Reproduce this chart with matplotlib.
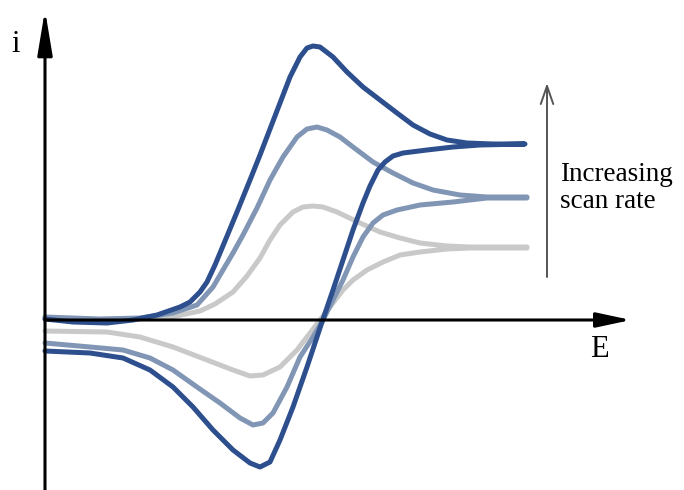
import numpy as np
import matplotlib
matplotlib.use("Agg")
import matplotlib.pyplot as plt

# cyclic voltammograms at three scan rates (arbitrary units)
# forward sweep (oxidation) and reverse sweep (reduction) for each scan rate

# fast scan
fast_E_fwd = [0, 28, 62, 88, 112, 135, 145, 155, 162, 170, 180, 192, 205, 215, 225, 235,
              245, 255, 262, 268, 275, 288, 302, 318, 335, 352, 368, 385, 402, 422, 448, 480]
fast_i_fwd = [1, -2, -3, 0, 5, 13, 18, 28, 38, 55, 79, 108, 140, 165, 191, 217,
              243, 263, 272, 274, 273, 263, 248, 233, 220, 207, 195, 186, 180, 177, 176, 176]
fast_E_rev = [480, 435, 408, 382, 358, 348, 340, 333, 325, 318, 308, 298, 288, 275, 262,
              248, 235, 225, 215, 205, 188, 168, 148, 128, 105, 78, 45, 0]
fast_i_rev = [176, 175, 173, 170, 167, 164, 158, 150, 134, 117, 90, 60, 30, -8, -47,
              -87, -120, -142, -147, -143, -130, -110, -87, -67, -50, -38, -33, -31]

# medium scan
mid_E_fwd = [0, 55, 95, 128, 152, 168, 188, 198, 212, 225, 238, 252, 262, 272, 282,
             295, 308, 328, 348, 368, 388, 415, 442, 482]
mid_i_fwd = [3, 1, 2, 7, 15, 33, 67, 85, 112, 140, 163, 183, 191, 193, 190,
             183, 173, 158, 147, 137, 130, 125, 123, 123]
mid_E_rev = [482, 442, 408, 375, 352, 338, 328, 318, 308, 298, 288, 278, 268, 255, 242,
             228, 218, 208, 195, 175, 152, 128, 105, 78, 45, 0]
mid_i_rev = [122, 122, 118, 115, 110, 105, 97, 83, 63, 40, 20, 0, -17, -37, -67,
             -93, -103, -105, -98, -83, -67, -50, -38, -30, -27, -23]

# slow scan
slow_E_fwd = [0, 55, 122, 155, 170, 188, 202, 215, 225, 235, 248, 258, 268, 278, 292, 315,
              335, 355, 375, 402, 425, 482]
slow_i_fwd = [2, 0, 2, 9, 16, 28, 44, 62, 80, 95, 108, 113, 114, 113, 108, 97,
              88, 82, 77, 74, 73, 73]
slow_E_rev = [482, 425, 402, 375, 355, 338, 322, 308, 298, 288, 275, 265, 252, 235, 218,
              205, 188, 162, 128, 95, 62, 0]
slow_i_rev = [72, 72, 71, 68, 65, 58, 50, 40, 30, 17, 0, -13, -30, -47, -55,
              -56, -50, -40, -27, -17, -12, -11]

colors = {"slow": "#c9c9c9", "mid": "#8196b5", "fast": "#2d4f8e"}

fig = plt.figure(figsize=(6.84, 4.90), dpi=100)
ax = fig.add_axes([0, 0, 1, 1])
ax.set_xlim(-45, 639)
ax.set_ylim(-170, 320)
ax.axis("off")

curves = [
    ("slow", slow_E_fwd, slow_i_fwd, slow_E_rev, slow_i_rev),
    ("mid", mid_E_fwd, mid_i_fwd, mid_E_rev, mid_i_rev),
    ("fast", fast_E_fwd, fast_i_fwd, fast_E_rev, fast_i_rev),
]
for z, (name, ef, jf, er, jr) in enumerate(curves):
    E = np.concatenate([ef, er])
    cur = np.concatenate([jf, jr])
    ax.plot(E, cur, color=colors[name], lw=3.6, zorder=2 + z,
            solid_joinstyle="round", solid_capstyle="round")

# axes with arrow heads
ax.annotate("", xy=(0, 310), xytext=(0, -172),
            arrowprops=dict(arrowstyle="-|>,head_length=2.7,head_width=0.45",
                            color="black", lw=2.2, mutation_scale=10,
                            shrinkA=0, shrinkB=0), zorder=6)
ax.annotate("", xy=(586, 0), xytext=(0, 0),
            arrowprops=dict(arrowstyle="-|>,head_length=2.1,head_width=0.45",
                            color="black", lw=2.2, mutation_scale=10,
                            shrinkA=0, shrinkB=0), zorder=6)

serif = "Liberation Serif"
ax.text(-29, 268, "i", fontsize=22, family=serif, ha="center", va="baseline")
ax.text(554, -37, "E", fontsize=22, family=serif, ha="center", va="baseline")

# increasing scan rate arrow
ax.annotate("", xy=(502, 237), xytext=(502, 43),
            arrowprops=dict(arrowstyle="->,head_length=1.3,head_width=0.45",
                            color="#555555", lw=1.4, mutation_scale=10,
                            shrinkA=0, shrinkB=0))
ax.text(515, 139, "Increasing", fontsize=19.5, family=serif, ha="left", va="baseline")
ax.text(515, 112, "scan rate", fontsize=19.5, family=serif, ha="left", va="baseline")

fig.savefig("out.png", dpi=100)
